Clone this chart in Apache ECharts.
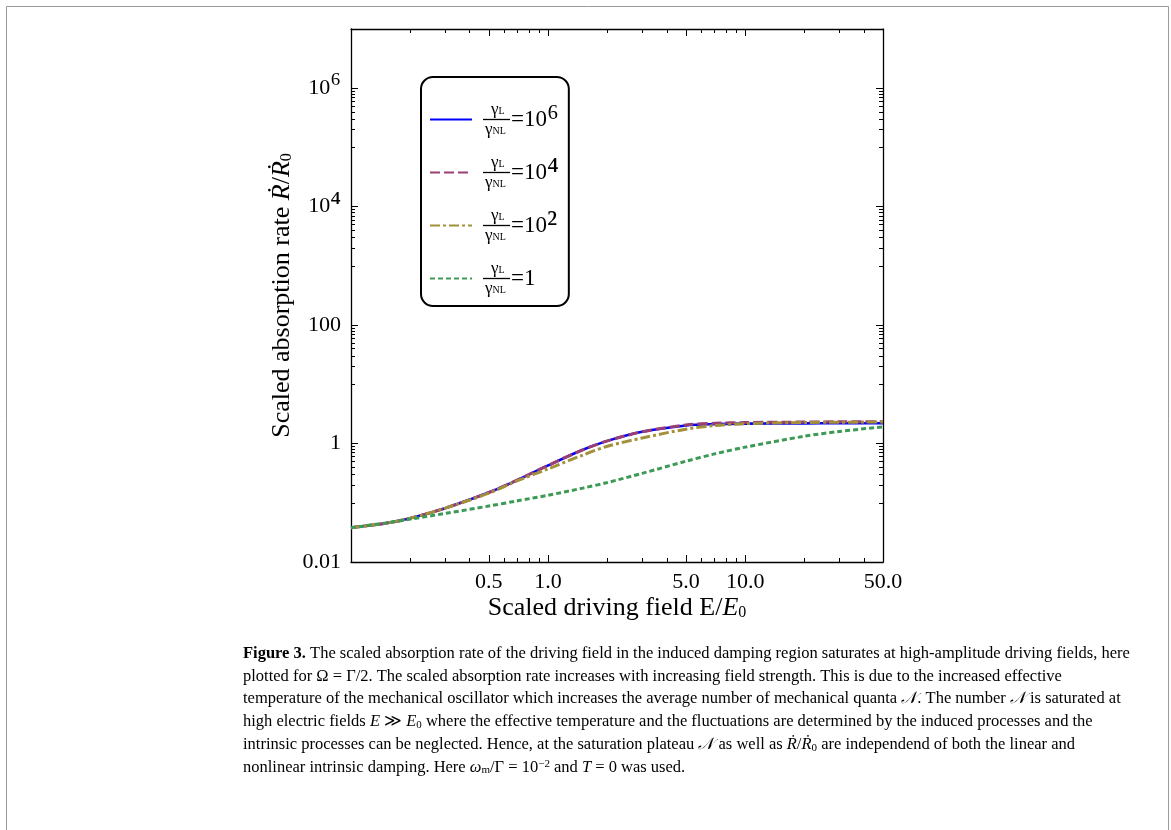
<!DOCTYPE html>
<html>
<head>
<meta charset="utf-8">
<script src="https://cdn.jsdelivr.net/npm/echarts@6/dist/echarts.min.js"></script>
<style>
html,body{margin:0;padding:0;background:#fff;}
#chart{width:1171px;height:830px;}
</style>
</head>
<body>
<div id="chart"></div>
<script>
// ---- data ----
const xVals  = [0.1, 0.15, 0.2, 0.3, 0.5, 0.7, 1, 1.5, 2, 3, 5, 7, 10, 20, 30, 50];
const ratio6 = [0.038, 0.045, 0.055, 0.081, 0.149, 0.243, 0.427, 0.785, 1.11, 1.58, 2.02, 2.13, 2.17, 2.19, 2.20, 2.20];
const ratio4 = [0.038, 0.045, 0.055, 0.081, 0.149, 0.243, 0.427, 0.785, 1.11, 1.58, 2.06, 2.20, 2.26, 2.31, 2.33, 2.34];
const ratio2 = [0.038, 0.045, 0.055, 0.081, 0.145, 0.236, 0.374, 0.640, 0.900, 1.24, 1.75, 2.01, 2.17, 2.27, 2.29, 2.31];
const ratio1 = [0.038, 0.0455, 0.053, 0.066, 0.088, 0.108, 0.134, 0.177, 0.220, 0.314, 0.503, 0.669, 0.870, 1.33, 1.60, 1.91];
const seriesNames = ['r6', 'r4', 'r2', 'r1'];
const legendBase = ['=10', '=10', '=10', '=1'];
const legendSup = ['\u2076', '\u2074', '\u00b2', ''];
const xMajorTicks = [0.5, 1, 5, 10, 50];
const xMinorTicks = [0.2, 0.3, 0.4, 0.6, 0.7, 0.8, 0.9, 2, 3, 4, 6, 7, 8, 9, 20, 30, 40];
const yMajorTicks = [0.01, 1, 100, 1e4, 1e6];
const yMajorBase = ['0.01', '1', '100', '10', '10'];
const yMajorSup = ['', '', '', '\u2074', '\u2076'];
const yMinorTicks = [0.1, 0.2, 0.3, 0.4, 0.5, 0.6, 0.7, 0.8, 0.9, 10, 20, 30, 40, 50, 60, 70, 80, 90,
  1000, 2000, 3000, 4000, 5000, 6000, 7000, 8000, 9000, 1e5, 2e5, 3e5, 4e5, 5e5, 6e5, 7e5, 8e5, 9e5, 1e7];
const xName = 'Scaled driving field E/';
const yName = 'Scaled absorption rate ';
const captionLines = [
  '{b|Figure 3.} The scaled absorption rate of the driving field in the induced damping region saturates at high-amplitude driving fields, here',
  'plotted for \u03a9 = \u0393/2. The scaled absorption rate increases with increasing field strength. This is due to the increased effective',
  'temperature of the mechanical oscillator which increases the average number of mechanical quanta {i|\ud835\udca9}. The number {i|\ud835\udca9} is saturated at',
  'high electric fields {i|E} \u226b {i|E}{s|0} where the effective temperature and the fluctuations are determined by the induced processes and the',
  'intrinsic processes can be neglected. Hence, at the saturation plateau {i|\ud835\udca9} as well as {i|\u1e58}/{i|\u1e58}{s|0} are independend of both the linear and',
  'nonlinear intrinsic damping. Here {i|\u03c9}{s|m}/\u0393 = 10{p|\u22122} and {i|T} = 0 was used.'
];

const SERIF = '"Liberation Serif", "DejaVu Serif", serif';
const chart = echarts.init(document.getElementById('chart'), null, {renderer: 'canvas'});

const colors = ['#0000ff', '#9a3f73', '#a3903a', '#3c9a55'];
const dashes = ['solid', [10, 4], [10, 3, 3, 3], [5, 3]];
const dataSets = [ratio6, ratio4, ratio2, ratio1];

const series = seriesNames.map((n, k) => ({
  name: n,
  type: 'line',
  xAxisIndex: 0,
  yAxisIndex: 0,
  data: xVals.map((x, i) => [x, dataSets[k][i]]),
  symbol: 'none',
  showSymbol: false,
  smooth: 0.3,
  lineStyle: {color: colors[k], width: k === 0 ? 2.6 : 3, type: dashes[k]},
  itemStyle: {color: colors[k]},
  z: 2 + k
}));

function logAxis(dim, pos, extra) {
  const base = dim === 'x' ? {min: 0.1, max: 50} : {min: 0.01, max: 1e7};
  return Object.assign({
    type: 'log', logBase: 10, position: pos,
    splitLine: {show: false},
    axisLine: {show: false},
    axisLabel: {show: false},
    axisTick: {show: false},
    minorTick: {show: false},
    minorSplitLine: {show: false}
  }, base, extra);
}

const tickMajor = (vals) => ({show: true, inside: true, length: 7, customValues: vals, lineStyle: {color: '#000', width: 1}});
const tickMinor = (vals) => ({show: true, inside: true, length: 4, customValues: vals, lineStyle: {color: '#000', width: 1}});
const frameLine = {show: true, lineStyle: {color: '#000', width: 1.3}};
const nameRich = {
  a: {fontFamily: SERIF, fontSize: 26, color: '#000'},
  i: {fontFamily: SERIF, fontSize: 26, fontStyle: 'italic', color: '#000'},
  s: {fontFamily: SERIF, fontSize: 16, color: '#000', verticalAlign: 'bottom', padding: [9, 0, 0, 0]}
};

const option = {
  animation: false,
  backgroundColor: '#fff',
  grid: {left: 351, top: 29, width: 532, height: 533, containLabel: false},
  xAxis: [
    logAxis('x', 'bottom', {
      axisLine: frameLine,
      axisTick: tickMajor(xMajorTicks),
      axisLabel: {show: true, customValues: xMajorTicks, color: '#000', fontFamily: SERIF, fontSize: 22, margin: 9,
        formatter: v => Number(v).toFixed(1)},
      name: '{a|' + xName + '}{i|E}{s|0}',
      nameLocation: 'middle', nameGap: 33, nameMoveOverlap: false,
      nameTextStyle: {color: '#000', fontFamily: SERIF, fontSize: 26, verticalAlign: 'top', rich: nameRich}
    }),
    logAxis('x', 'bottom', {axisTick: tickMinor(xMinorTicks)}),
    logAxis('x', 'top', {axisLine: frameLine, axisTick: tickMajor(xMajorTicks)}),
    logAxis('x', 'top', {axisTick: tickMinor(xMinorTicks)})
  ],
  yAxis: [
    logAxis('y', 'left', {
      axisLine: frameLine,
      axisTick: tickMajor(yMajorTicks),
      axisLabel: {show: true, customValues: yMajorTicks, color: '#000', fontFamily: SERIF, fontSize: 22, margin: 10,
        formatter: v => {
          const e = Math.round(Math.log10(v));
          const idx = yMajorTicks.findIndex(t => Math.round(Math.log10(t)) === e);
          if (idx < 0) return '';
          return '{b|' + yMajorBase[idx] + '}' + (yMajorSup[idx] ? '{p|' + yMajorSup[idx] + '}' : '');
        },
        rich: {
          b: {fontFamily: SERIF, fontSize: 22, color: '#000', lineHeight: 24},
          p: {fontFamily: SERIF, fontSize: 31, color: '#000', lineHeight: 24, padding: [0, 0, 6, 0]}
        }},
      name: '{a|' + yName + '}{i|\u1e58}{a|/}{i|\u1e58}{s|0}',
      nameLocation: 'middle', nameGap: 56, nameRotate: 90, nameMoveOverlap: false,
      nameTextStyle: {color: '#000', fontFamily: SERIF, fontSize: 26, rich: nameRich}
    }),
    logAxis('y', 'left', {axisTick: tickMinor(yMinorTicks)}),
    logAxis('y', 'right', {axisLine: frameLine, axisTick: tickMajor(yMajorTicks)}),
    logAxis('y', 'right', {axisTick: tickMinor(yMinorTicks)})
  ],
  legend: {
    data: seriesNames,
    orient: 'vertical',
    left: 421, top: 77,
    padding: [24, 10, 9, 8],
    backgroundColor: '#fff',
    borderColor: '#000', borderWidth: 2, borderRadius: 12,
    itemWidth: 42, itemHeight: 14, itemGap: 16,
    selectedMode: false,
    itemStyle: {opacity: 0, borderWidth: 0},
    formatter: name => {
      const k = seriesNames.indexOf(name);
      return '{pad|}{n|\u03b3}{ns|L}\n{bar|}{eq|' + legendBase[k] + '}' + (legendSup[k] ? '{sup|' + legendSup[k] + '}' : '') +
        '\n{padd|}{n|\u03b3}{ns|NL}';
    },
    textStyle: {
      color: '#000', fontFamily: SERIF, padding: [0, 0, 0, 6],
      rich: {
        pad: {width: 8, lineHeight: 14},
        padd: {width: 2, lineHeight: 14},
        n: {fontFamily: SERIF, fontSize: 17, lineHeight: 14, color: '#000'},
        ns: {fontFamily: SERIF, fontSize: 10, lineHeight: 14, color: '#000', verticalAlign: 'bottom'},
        bar: {width: 27, height: 1.3, backgroundColor: '#000', lineHeight: 6},
        eq: {fontFamily: SERIF, fontSize: 23, lineHeight: 6, color: '#000', padding: [0, 0, 0, 1]},
        sup: {fontFamily: SERIF, fontSize: 34, lineHeight: 6, color: '#000'}
      }
    }
  },
  graphic: [
    {type: 'rect', left: 4, top: 4, silent: true,
     shape: {width: 1162, height: 850, r: 0},
     style: {fill: 'none', stroke: '#9a9a9a', lineWidth: 1}}
  ].concat(captionLines.map((t, i) => ({
    type: 'text', left: 243, top: 645 + i * 22.8, silent: true,
    style: {
      text: t, fill: '#000', font: '16.5px ' + SERIF,
      rich: {
        b: {fontWeight: 'bold', fontFamily: SERIF, fontSize: 16.5, fill: '#000'},
        i: {fontStyle: 'italic', fontFamily: SERIF, fontSize: 16.5, fill: '#000'},
        s: {fontFamily: SERIF, fontSize: 11, fill: '#000', verticalAlign: 'bottom', padding: [6, 0, 0, 0]},
        p: {fontFamily: SERIF, fontSize: 11, fill: '#000', verticalAlign: 'top'}
      }
    }
  }))),
  series: series
};

chart.setOption(option);
</script>
</body>
</html>
